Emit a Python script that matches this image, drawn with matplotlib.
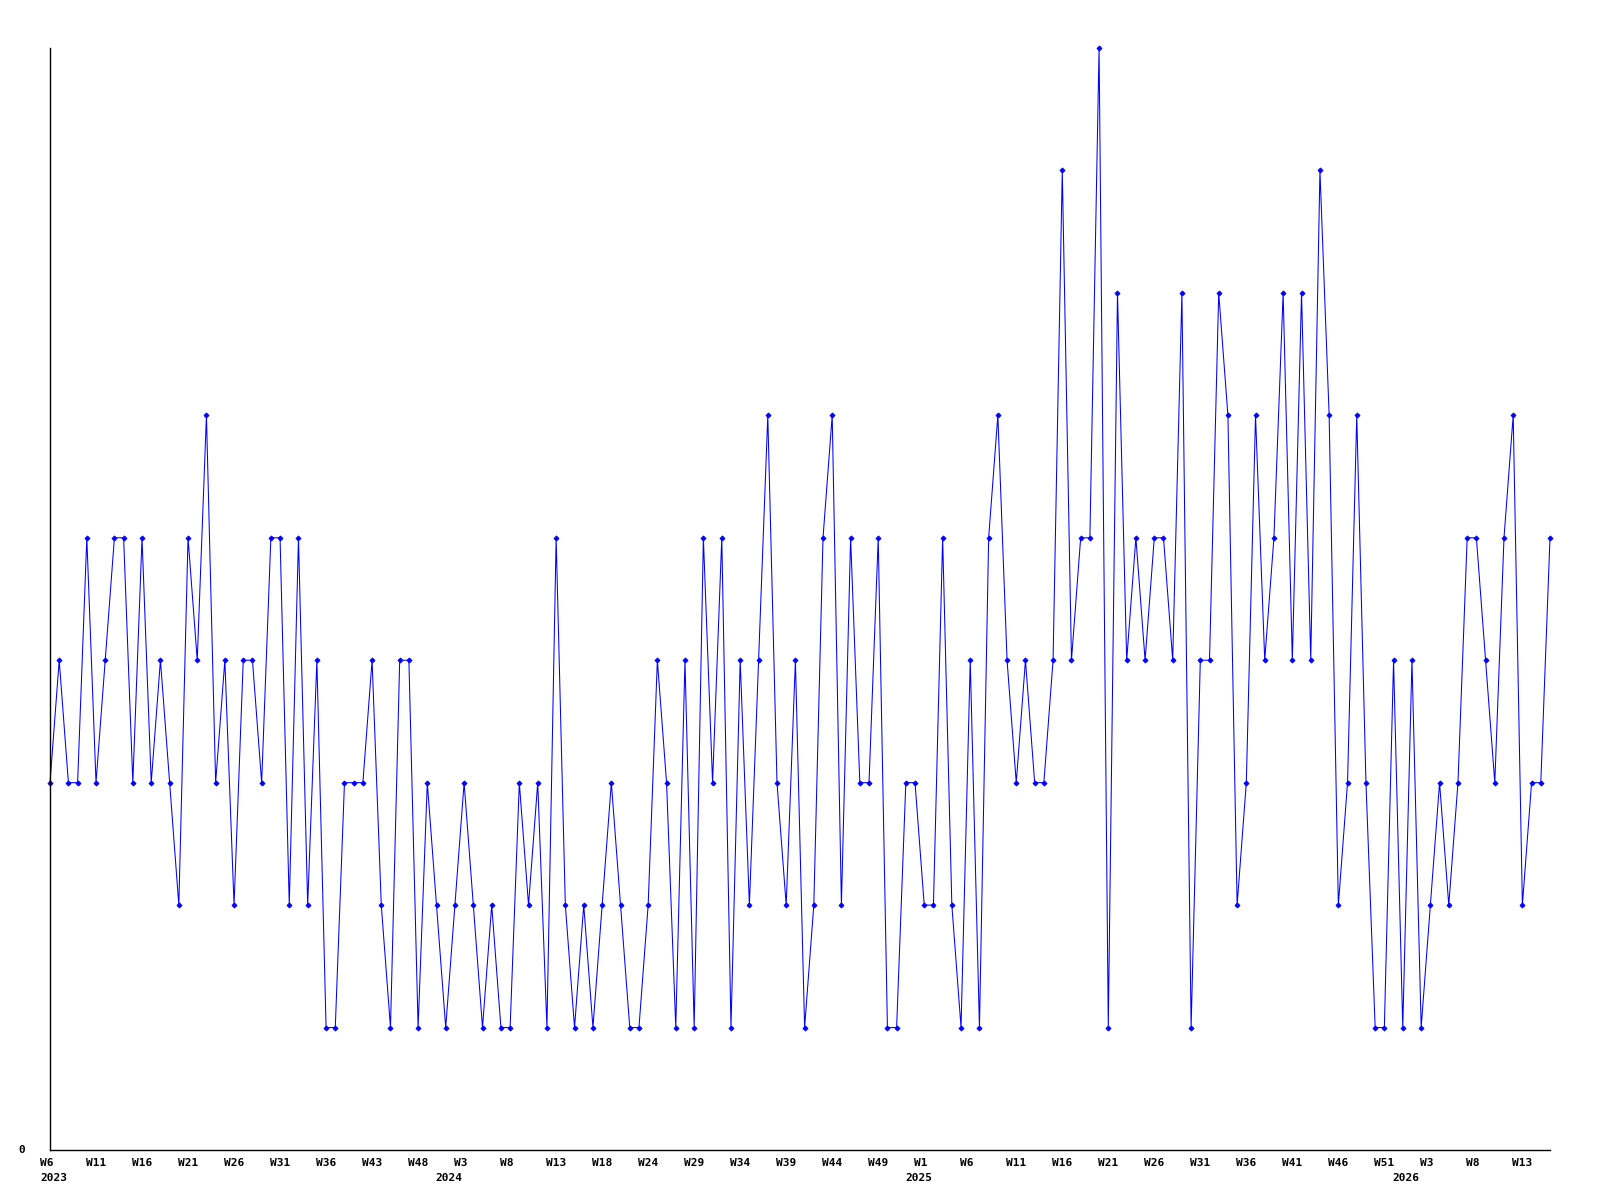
import matplotlib
matplotlib.use("Agg")
import matplotlib.pyplot as plt
import matplotlib.transforms as mtransforms

# weekly counts, one point per entry
values = [
    3, 4, 3, 3, 5, 3, 4, 5, 5, 3, 5, 3, 4, 3, 2, 5, 4, 6, 3, 4,
    2, 4, 4, 3, 5, 5, 2, 5, 2, 4, 1, 1, 3, 3, 3, 4, 2, 1, 4, 4, 1,
    3, 2, 1, 2, 3, 2, 1, 2, 1, 1, 3, 2, 3, 1, 5, 2, 1, 2, 1, 2,
    3, 2, 1, 1, 2, 4, 3, 1, 4, 1, 5, 3, 5, 1, 4, 2, 4, 6, 3, 2, 4,
    1, 2, 5, 6, 2, 5, 3, 3, 5, 1, 1, 3, 3, 2, 2, 5, 2, 1, 4, 1, 5,
    6, 4, 3, 4, 3, 3, 4, 8, 4, 5, 5, 9, 1, 7, 4, 5, 4, 5, 5, 4, 7,
    1, 4, 4, 7, 6, 2, 3, 6, 4, 5, 7, 4, 7, 4, 8, 6, 2, 3, 6, 3,
    1, 1, 4, 1, 4, 1, 2, 3, 2, 3, 5, 5, 4, 3, 5, 6, 2, 3, 3, 5,
]

# week labels, every 5th entry
week_labels = [
    "W6", "W11", "W16", "W21", "W26", "W31", "W36", "W43", "W48",
    "W3", "W8", "W13", "W18", "W24", "W29", "W34", "W39", "W44", "W49",
    "W1", "W6", "W11", "W16", "W21", "W26", "W31", "W36", "W41", "W46", "W51",
    "W3", "W8", "W13",
]
label_step = 5

# year labels and the entry where each year starts
years = ["2023", "2024", "2025", "2026"]
year_starts = [0, 43, 94, 147]

x = list(range(len(values)))

fig = plt.figure(figsize=(16, 12), dpi=100)
ax = fig.add_axes([50 / 1600, 50 / 1200, 1500 / 1600, 1102 / 1200])

ax.plot(x, values, color="#0000ff", linewidth=0.75, marker="D",
        markersize=2.6, markeredgewidth=0.6, clip_on=False)

ax.set_xlim(0, len(values) - 1)
ax.set_ylim(0, max(values))

for side in ("top", "right"):
    ax.spines[side].set_visible(False)
for side in ("left", "bottom"):
    ax.spines[side].set_linewidth(1.0)
    ax.spines[side].set_color("black")

ax.set_xticks([])
ax.set_yticks([])

font = dict(family="DejaVu Sans Mono", fontweight="bold", fontsize=8)

# labels start 10 px left of their point
shift = mtransforms.ScaledTranslation(-10 / 100, 0, fig.dpi_scale_trans)
trans = ax.get_xaxis_transform() + shift

for i, lab in enumerate(week_labels):
    ax.text(i * label_step, -0.0075, lab, transform=trans,
            ha="left", va="top", **font)

for yr, pos in zip(years, year_starts):
    ax.text(pos, -0.021, yr, transform=trans, ha="left", va="top", **font)

ax.text(-0.0165, 0, "0", transform=ax.transAxes, ha="right", va="center", **font)

fig.savefig("out.png", dpi=100)
